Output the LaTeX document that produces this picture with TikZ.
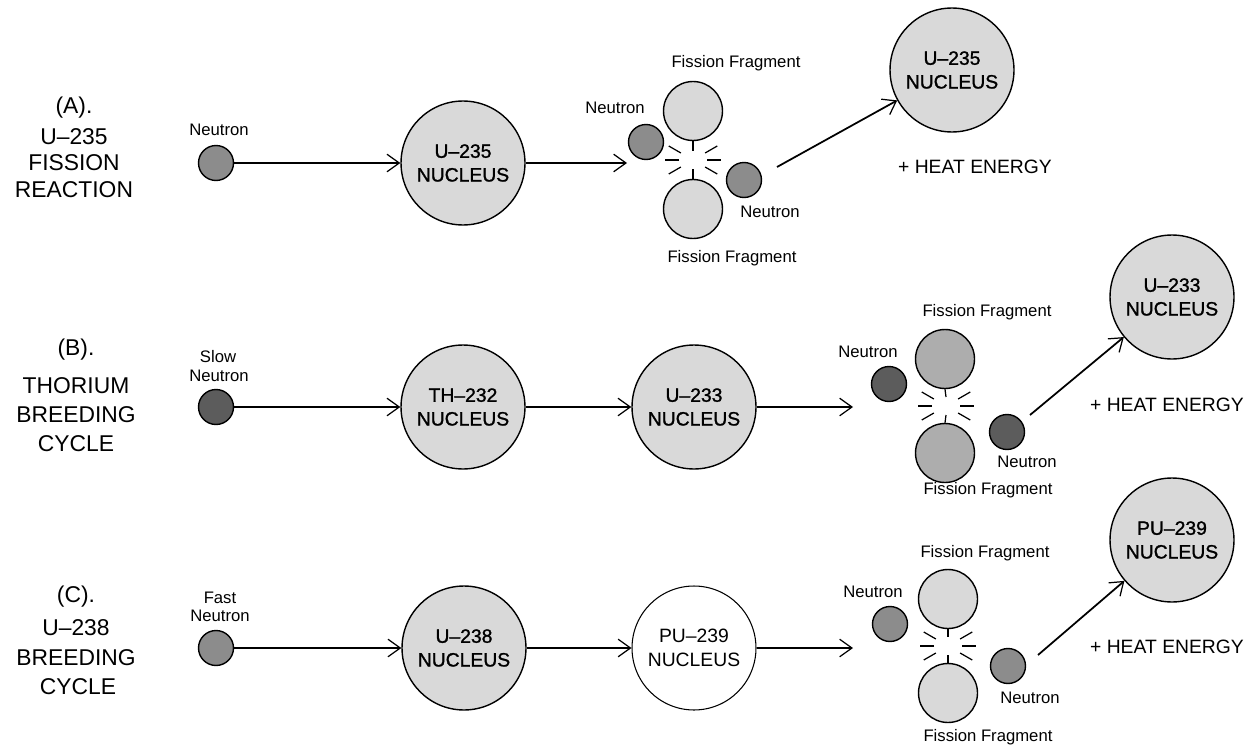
\documentclass[tikz,border=0pt]{standalone}
\usepackage{fontspec}
\setmainfont{Liberation Sans}
\usetikzlibrary{arrows.meta}
\definecolor{nuc}{gray}{0.85}
\definecolor{neuA}{gray}{0.55}
\definecolor{neuB}{gray}{0.36}
\definecolor{fragB}{gray}{0.68}
\newcommand\myrays[3]{%
  \foreach \a in {0,30,150,180,210,330}
    \draw[ray] ([shift={(\a:14)}]#1) -- ([shift={(\a:28)}]#1);
  \draw[ray] (#2.south) -- ([shift={(0,-9)}]#1);
  \draw[ray] (#3.north) -- ([shift={(0,9)}]#1);
}
\begin{document}
\begin{tikzpicture}[x=0.02cm,y=-0.02cm,
  nucleus/.style={circle,draw,line width=0.8pt,fill=nuc,minimum size=2.48cm,inner sep=0pt,align=center,font=\fontsize{11}{13.5}\selectfont\addfontfeature{FakeBold=1.2}},
  neutron/.style={circle,draw,line width=0.8pt,fill=neuA,minimum size=0.7cm,inner sep=0pt},
  frag/.style={circle,draw,line width=0.8pt,fill=nuc,minimum size=1.18cm,inner sep=0pt},
  small/.style={font=\fontsize{9.5}{11}\selectfont,inner sep=0pt},
  title/.style={font=\fontsize{13}{15}\selectfont,inner sep=0pt},
  heat/.style={font=\fontsize{11}{13}\selectfont,inner sep=0pt},
  flow/.style={line width=1pt,-{Straight Barb[length=7pt,width=10pt,line width=0.7pt]}},
  ray/.style={line width=0.7pt}]
\useasboundingbox[fill=white] (0,0) rectangle (1251,747);

% ---------------- Row A ----------------
\node[title] (tA1) at (74,108) {(A).};
\node[title] (tA2) at (74,137) {U–235};
\node[title] (tA3) at (74,163) {FISSION};
\node[title] (tA4) at (74,190) {REACTION};
\node[small] (lnAlab) at (219,130) {Neutron};
\node[neutron] (nA) at (216,163) {};
\node[nucleus] (A1) at (463,163) {U–235\\NUCLEUS};
\coordinate (tipA) at (627,163);
\draw[flow] (nA) -- (A1);
\draw[flow] (A1) -- (tipA);
\node[frag] (fA1) at (693,111) {};
\node[frag] (fA2) at (693,209) {};
\coordinate (cA) at (693,160);
\myrays{cA}{fA1}{fA2}
\node[neutron] (lnA) at (646,142) {};
\node[neutron] (rnA) at (744,180) {};
\node[small] (ffA1) at (736,63) {Fission Fragment};
\node[small] (ffA2) at (732,258) {Fission Fragment};
\node[small] (nlA1) at (615,108) {Neutron};
\node[small] (nlA2) at (770,212) {Neutron};
\node[nucleus] (bA) at (952,70) {U–235\\NUCLEUS};
\coordinate (sA) at (777,167);
\draw[flow] (sA) -- (bA);
\node[heat] (hA) at (975,167) {+ HEAT ENERGY};

% ---------------- Row B ----------------
\node[title] (tB1) at (76,350) {(B).};
\node[title] (tB2) at (76,386) {THORIUM};
\node[title] (tB3) at (76,415) {BREEDING};
\node[title] (tB4) at (76,444) {CYCLE};
\node[small] (slB) at (218,357) {Slow};
\node[small] (slB2) at (219,376) {Neutron};
\node[neutron,fill=neuB] (nB) at (216,407) {};
\node[nucleus] (B1) at (463,407) {TH–232\\NUCLEUS};
\node[nucleus] (B2) at (694,407) {U–233\\NUCLEUS};
\coordinate (tipB) at (853,407);
\draw[flow] (nB) -- (B1);
\draw[flow] (B1) -- (B2);
\draw[flow] (B2) -- (tipB);
\node[frag,fill=fragB] (fB1) at (945,359) {};
\node[frag,fill=fragB] (fB2) at (945,453) {};
\coordinate (cB) at (946,406);
\myrays{cB}{fB1}{fB2}
\node[neutron,fill=neuB] (lnB) at (889,384) {};
\node[neutron,fill=neuB] (rnB) at (1007,432) {};
\node[small] (ffB1) at (987,312) {Fission Fragment};
\node[small] (ffB2) at (988,490) {Fission Fragment};
\node[small] (nlB1) at (868,352) {Neutron};
\node[small] (nlB2) at (1027,462) {Neutron};
\node[nucleus] (bB) at (1172,297) {U–233\\NUCLEUS};
\coordinate (sB) at (1030,415);
\draw[flow] (sB) -- (bB);
\node[heat] (hB) at (1167,405) {+ HEAT ENERGY};

% ---------------- Row C ----------------
\node[title] (tC1) at (76,597) {(C).};
\node[title] (tC2) at (76,628) {U–238};
\node[title] (tC3) at (76,658) {BREEDING};
\node[title] (tC4) at (78,687) {CYCLE};
\node[small] (faC) at (220,598) {Fast};
\node[small] (faC2) at (220,616) {Neutron};
\node[neutron] (nC) at (216,648) {};
\node[nucleus] (C1) at (464,648) {U–238\\NUCLEUS};
\node[nucleus,fill=white,line width=0.6pt,font=\fontsize{11}{13.5}\selectfont] (C2) at (694,648) {PU–239\\NUCLEUS};
\coordinate (tipC) at (853,648);
\draw[flow] (nC) -- (C1);
\draw[flow] (C1) -- (C2);
\draw[flow] (C2) -- (tipC);
\node[frag] (fC1) at (948,599) {};
\node[frag] (fC2) at (948,693) {};
\coordinate (cC) at (948,646);
\myrays{cC}{fC1}{fC2}
\node[neutron] (lnC) at (890,624) {};
\node[neutron] (rnC) at (1008,666) {};
\node[small] (ffC1) at (985,553) {Fission Fragment};
\node[small] (ffC2) at (988,737) {Fission Fragment};
\node[small] (nlC1) at (873,592) {Neutron};
\node[small] (nlC2) at (1030,698) {Neutron};
\node[nucleus] (bC) at (1172,540) {PU–239\\NUCLEUS};
\coordinate (sC) at (1038,655);
\draw[flow] (sC) -- (bC);
\node[heat] (hC) at (1167,647) {+ HEAT ENERGY};
\end{tikzpicture}
\end{document}
